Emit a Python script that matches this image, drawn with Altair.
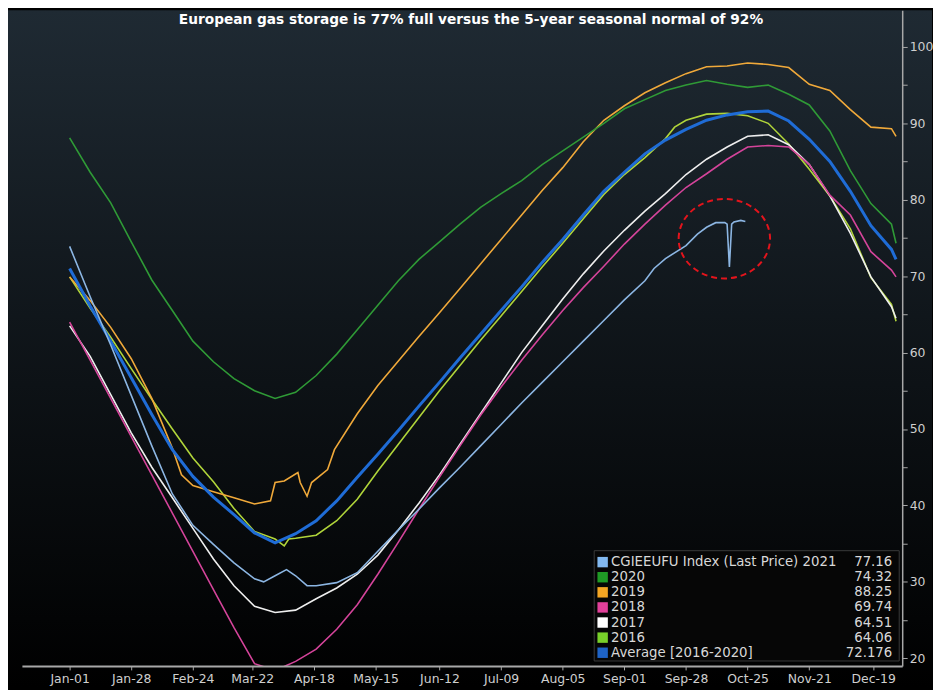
import altair as alt
import pandas as pd

TITLE = "European gas storage is 77% full versus the 5-year seasonal normal of 92%"

TICK_DAYS = [0, 27, 54, 80, 107, 134, 162, 189, 216, 243, 270, 297, 324, 352]
TICK_LABELS = ["Jan-01", "Jan-28", "Feb-24", "Mar-22", "Apr-18", "May-15", "Jun-12",
               "Jul-09", "Aug-05", "Sep-01", "Sep-28", "Oct-25", "Nov-21", "Dec-19"]
Y_TICKS = [20, 25, 30, 35, 40, 45, 50, 55, 60, 65, 70, 75, 80, 85, 90, 95, 100]

# shared sampling days (day of year, 0 = Jan-01)
DAYS = [0, 9, 18, 27, 36, 45, 54, 63, 72, 81, 90, 99, 108, 117, 126, 135, 144, 153, 162, 171,
        180, 189, 198, 207, 216, 225, 234, 243, 252, 261, 270, 279, 288, 297, 306, 315, 324,
        333, 342, 351, 360, 362]

V2020 = [88.1, 83.6, 79.6, 74.5, 69.5, 65.5, 61.5, 58.8, 56.6, 55.0, 54.0, 54.8, 57.0, 59.8,
         63.0, 66.2, 69.4, 72.2, 74.5, 76.8, 79.0, 80.8, 82.5, 84.6, 86.4, 88.2, 90.0, 91.9,
         93.1, 94.3, 95.0, 95.6, 95.1, 94.7, 95.0, 93.8, 92.4, 89.0, 83.8, 79.5, 76.8, 74.3]

AVG = [71.0, 66.1, 61.5, 56.7, 51.9, 47.3, 43.8, 41.1, 38.8, 36.4, 35.1, 36.3, 38.0, 40.6,
       43.7, 46.7, 49.8, 53.0, 56.1, 59.3, 62.4, 65.5, 68.6, 71.8, 74.8, 78.0, 81.1, 83.6,
       86.0, 87.8, 89.2, 90.4, 91.1, 91.5, 91.6, 90.3, 87.9, 85.0, 81.1, 76.6, 73.5, 72.2]

V2017 = [63.5, 59.5, 54.5, 49.5, 45.0, 41.0, 37.0, 33.0, 29.5, 26.8, 26.0, 26.3, 27.8, 29.2,
         31.0, 33.5, 36.8, 40.3, 44.0, 48.0, 52.0, 56.0, 60.0, 63.5, 67.0, 70.3, 73.3, 76.0,
         78.5, 80.8, 83.3, 85.3, 86.9, 88.3, 88.5, 87.2, 84.6, 80.5, 75.6, 69.9, 66.0, 64.5]

V2018 = [64.0, 59.0, 54.0, 49.0, 44.0, 39.0, 34.0, 29.0, 24.0, 19.3, 18.4, 19.6, 21.2, 23.8,
         27.0, 31.0, 35.2, 39.5, 43.7, 47.8, 51.8, 55.5, 59.0, 62.3, 65.5, 68.5, 71.3, 74.2,
         76.8, 79.3, 81.6, 83.4, 85.3, 86.9, 87.1, 86.9, 84.6, 80.6, 78.0, 73.2, 70.8, 69.9]

D2019 = [0, 9, 18, 27, 36, 45, 49, 54, 63, 72, 81, 88, 90, 94, 100, 101, 104, 106, 113, 116,
         126, 135, 144, 153, 162, 171, 180, 189, 198, 207, 216, 225, 234, 243, 252, 261, 270,
         279, 288, 297, 306, 315, 324, 333, 342, 351, 360, 362]
V2019 = [69.9, 66.8, 63.3, 59.2, 54.0, 47.5, 44.0, 42.6, 41.8, 41.0, 40.2, 40.6, 43.0, 43.2,
         44.3, 43.0, 41.2, 43.0, 44.7, 47.3, 52.0, 55.7, 58.9, 62.1, 65.2, 68.4, 71.6, 74.8,
         78.0, 81.2, 84.2, 87.6, 90.4, 92.3, 94.0, 95.3, 96.5, 97.4, 97.5, 97.9, 97.7, 97.3,
         95.1, 94.3, 91.8, 89.5, 89.3, 88.3]

D2016 = [0, 9, 18, 27, 36, 45, 54, 63, 72, 81, 90, 94, 96, 99, 108, 117, 126, 135, 144, 153,
         162, 171, 180, 189, 198, 207, 216, 225, 234, 243, 252, 261, 265, 270, 279, 288, 297,
         306, 315, 324, 333, 342, 351, 360, 362]
V2016 = [69.9, 65.8, 62.0, 57.9, 53.9, 50.0, 46.2, 43.1, 39.6, 36.6, 35.6, 34.7, 35.6, 35.7,
         36.1, 38.0, 40.8, 44.5, 48.0, 51.5, 55.0, 58.3, 61.6, 64.8, 68.0, 71.2, 74.3, 77.5,
         80.7, 83.3, 85.5, 88.0, 89.5, 90.4, 91.2, 91.3, 91.0, 90.0, 87.3, 84.0, 80.5, 76.2,
         69.8, 66.3, 64.1]

D2021 = [0, 9, 18, 27, 36, 45, 54, 63, 72, 81, 85, 90, 95, 99, 104, 108, 117, 126, 135, 144,
         153, 162, 171, 180, 189, 198, 207, 216, 225, 234, 243, 252, 256, 261, 270, 275, 279,
         283, 287, 288, 289, 290, 291, 294, 296]
V2021 = [73.9, 67.3, 61.0, 54.4, 47.8, 41.5, 37.4, 34.9, 32.5, 30.4, 30.0, 30.8, 31.6, 30.8,
         29.5, 29.5, 29.9, 31.2, 34.0, 36.8, 39.5, 42.3, 45.0, 47.8, 50.6, 53.4, 56.1, 58.8,
         61.5, 64.2, 66.9, 69.4, 71.0, 72.3, 74.0, 75.5, 76.4, 77.0, 77.0, 76.8, 71.2, 76.8,
         77.1, 77.3, 77.16]

SERIES = [
    ("2016", D2016, V2016, "#b0d43a", 1.6),
    ("2017", DAYS, V2017, "#eeeeee", 1.6),
    ("2018", DAYS, V2018, "#d4449a", 1.6),
    ("2019", D2019, V2019, "#f0a93a", 1.6),
    ("2020", DAYS, V2020, "#2f9a36", 1.6),
    ("Average", DAYS, AVG, "#1f6cd6", 3.0),
    ("2021", D2021, V2021, "#8cb6e3", 1.6),
]

LEGEND_LABELS = ["CGIEEUFU Index (Last Price) 2021", "2020", "2019", "2018", "2017", "2016",
                 "Average  [2016-2020]"]
LEGEND_VALUES = ["77.16", "74.32", "88.25", "69.74", "64.51", "64.06", "72.176"]
LEGEND_COLORS = ["#82b8ef", "#1f9a25", "#f5a623", "#e2409a", "#ffffff", "#78d02a", "#1e63c6"]

CIRCLE_DAY = [286.8]
CIRCLE_VAL = [74.9]

FONT = "DejaVu Sans"

rows = []
for name, days, vals, _, _ in SERIES:
    for d, v in zip(days, vals):
        rows.append({"series": name, "day": d, "value": v})
df = pd.DataFrame(rows)

label_expr = "[" + ",".join("'%s'" % s for s in TICK_LABELS) + "][indexof([" + \
    ",".join(str(d) for d in TICK_DAYS) + "], datum.value)]"

AX_STYLE = dict(domainColor="#a8a8a8", tickColor="#a8a8a8", labelColor="#cfcfcf",
                labelFont=FONT, labelFontSize=12.5, zindex=1, title=None, grid=False)

X = alt.X("day:Q",
          scale=alt.Scale(domain=[-20.9, 364.7], nice=False, zero=False),
          axis=alt.Axis(values=TICK_DAYS, labelExpr=label_expr, tickSize=4, labelPadding=3,
                        domainWidth=2, **AX_STYLE))
Y = alt.Y("value:Q",
          scale=alt.Scale(domain=[19, 104.8], nice=False, zero=False),
          axis=alt.Axis(orient="right", values=Y_TICKS,
                        labelExpr="datum.value % 10 === 0 ? datum.label : ''",
                        tickSize=5, labelPadding=2, domainWidth=1.5, **AX_STYLE))

one = pd.DataFrame({"a": [0]})

bg = alt.Chart(one).mark_rect(
    color=alt.LinearGradient(
        gradient="linear", x1=0, x2=0, y1=0, y2=1,
        stops=[alt.GradientStop(color="#1f2a33", offset=0),
               alt.GradientStop(color="#10161b", offset=0.45),
               alt.GradientStop(color="#000000", offset=1)])
).encode(x=alt.value(-14), x2=alt.value(916), y=alt.value(0), y2=alt.value(682))

layers = [bg]
for name, _, _, color, width in SERIES:
    layers.append(
        alt.Chart(df).transform_filter(alt.datum.series == name)
        .mark_line(color=color, strokeWidth=width, clip=True)
        .encode(x=X, y=Y)
    )

ellipse = "M-1,0A1,0.87,0,1,1,1,0A1,0.87,0,1,1,-1,0Z"
circle = alt.Chart(pd.DataFrame({"day": CIRCLE_DAY, "value": CIRCLE_VAL})).mark_point(
    shape=ellipse, size=8464, filled=False, stroke="#e3141c", strokeWidth=2,
    strokeDash=[6, 4], opacity=1
).encode(x=X, y=Y)
layers.append(circle)

title = alt.Chart(pd.DataFrame({"t": [TITLE]})).mark_text(
    font=FONT, fontWeight="bold", fontSize=13.8, color="#ffffff", align="center",
    baseline="middle"
).encode(text="t:N", x=alt.value(452), y=alt.value(10))
layers.append(title)

leg = pd.DataFrame({"lab": LEGEND_LABELS, "val": LEGEND_VALUES, "c": LEGEND_COLORS,
                    "i": list(range(len(LEGEND_LABELS)))})

legbox = alt.Chart(one).mark_rect(fill="#060606", stroke="#3a3a3a", strokeWidth=1).encode(
    x=alt.value(576), x2=alt.value(883), y=alt.value(544), y2=alt.value(655))
layers.append(legbox)

PY = alt.Y("py:Q", scale=None, axis=None)
legbase = alt.Chart(leg).transform_calculate(py="555.5 + datum.i * 15.2")
layers.append(legbase.mark_square(size=110, opacity=1).encode(
    x=alt.value(584.5), y=PY, color=alt.Color("c:N", scale=None)))
layers.append(legbase.mark_text(align="left", baseline="middle", font=FONT, fontSize=13.4,
                                color="#d8d8d8").encode(x=alt.value(593), y=PY, text="lab:N"))
layers.append(legbase.mark_text(align="right", baseline="middle", font=FONT, fontSize=13.4,
                                color="#d8d8d8").encode(x=alt.value(876), y=PY, text="val:N"))

chart = alt.layer(*layers).properties(
    width=886, height=660, background="#000000",
    padding={"left": 0, "top": 0, "right": 0, "bottom": 0}
).configure_view(stroke=None)

chart.save("out.html", embed_options={"renderer": "svg", "actions": False})
